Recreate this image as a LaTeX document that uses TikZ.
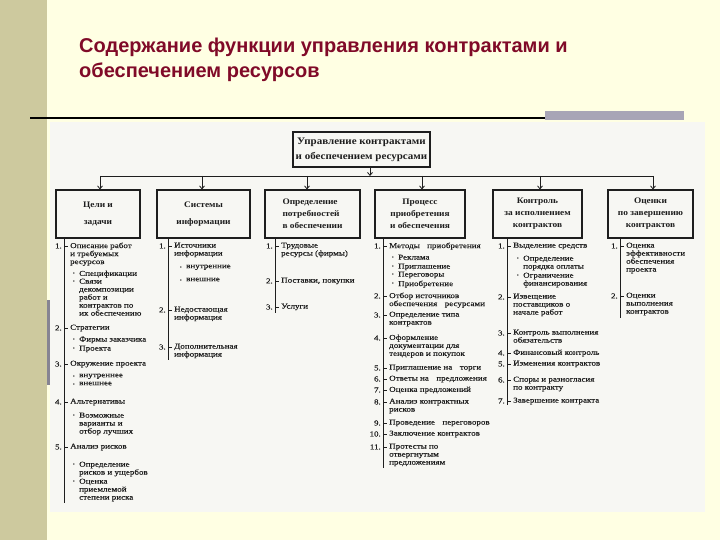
\documentclass[tikz,border=0pt]{standalone}
\usepackage{fontspec}
\setmainfont{Liberation Serif}
\newfontfamily\titlefont{Liberation Sans}
\newfontfamily\listfont[FakeStretch=1.2, FakeBold=0.3]{Liberation Serif}
\newfontfamily\boxfont[FakeStretch=1.1]{Liberation Serif}
\usetikzlibrary{arrows.meta, positioning}
\definecolor{slidebg}{HTML}{FFFFE3}
\definecolor{strip}{HTML}{CDC99E}
\definecolor{titlered}{HTML}{800A28}
\definecolor{bar}{HTML}{A8A5B6}
\definecolor{scan}{HTML}{F7F7F3}
\definecolor{ink}{HTML}{1E1E1E}
\tikzstyle{block} = [draw=ink, line width=1.1pt, rectangle, inner sep=2pt, text=ink]
\tikzstyle{topbox} = [block, minimum width=137pt, minimum height=35pt, align=center, font=\boxfont\bfseries\fontsize{10}{15}\selectfont]
\tikzstyle{task} = [block, minimum height=48pt, font=\boxfont\bfseries\fontsize{8.5}{12}\selectfont]
\tikzstyle{path} = [-{Straight Barb[length=3pt, width=5pt]}, ink, thick]
\tikzstyle{bus} = [ink, line width=0.9pt]
\tikzstyle{spine} = [ink, line width=0.9pt]
\tikzstyle{tick} = [ink, line width=0.6pt]
\tikzstyle{num} = [anchor=east, inner sep=0pt, font=\listfont\fontsize{7.5}{8}\selectfont, text=ink]
\tikzstyle{item} = [anchor=north west, inner sep=0pt, align=left, font=\listfont\fontsize{7.5}{8}\selectfont, text=ink]
\tikzstyle{bul} = [inner sep=0pt, font=\fontsize{6}{6}\selectfont, text=ink]

\begin{document}
\begin{tikzpicture}[x=1pt, y=-1pt]
    \useasboundingbox (0,0) rectangle (720,540);

    % Slide.
    \fill[slidebg] (0,0) rectangle (720,540);
    \fill[strip] (0,0) rectangle (47,540);
    \fill[bar] (545,111) rectangle (684,120);
    \draw[line width=2.5pt] (30,118) -- (545,118);
    \fill[scan] (50,122) rectangle (705,512);
    \fill[bar!80!black] (47,300) rectangle (50,385);
    \node (title) [anchor=north west, inner sep=0pt, align=left, text=titlered,
        font=\titlefont\bfseries\fontsize{20}{25}\selectfont] at (79,38)
        {Содержание функции управления контрактами и\\обеспечением ресурсов};

    % Boxes.
    \node (top) [topbox] at (361.5,149.5) {Управление контрактами\\и обеспечением ресурсами};
    \foreach\i/\x/\w/\a/\t in {1/98/84/center/{Цели и\\[5pt]задачи},
        2/203.5/93/center/{Системы\\[5pt]информации},
        3/312.5/95/left/{Определение\\потребностей\\в обеспечении},
        4/420/90/center/{Процесс\\приобретения\\и обеспечения},
        5/537.5/89/center/{Контроль\\за исполнением\\контрактов},
        6/650.5/85/center/{Оценки\\по завершению\\контрактов}} {
        \node (box\i) [task, minimum width=\w pt, align=\a] at (\x,214) {\t};
    }

    % Arrows.
    \coordinate (bus0) at (370,176);
    \foreach\i/\x in {1/100, 2/202, 3/307, 4/422, 5/540, 6/653} {
        \coordinate (bus\i) at (\x,176);
    }
    \draw [path] (top.south -| bus0) -- (bus0);
    \draw [bus] (bus1) -- (bus6);
    \foreach\i in {1, ..., 6} {
        \draw [path] (bus\i) -- (bus\i |- box\i.north);
    }

    % Lists.
    \foreach\i/\x/\e in {1/64/503, 2/168/360, 3/275/313, 4/383/468, 5/507/405, 6/620/318} {
        \coordinate (end\i) at (\x,\e);
        \draw [spine] (box\i.south -| end\i) -- (end\i);
    }
    \foreach\x/\k/\y/\t in {64/1/246/{Описание работ\\и требуемых\\ресурсов},
        64/2/328/Стратегии, 64/3/364/{Окружение проекта},
        64/4/402/Альтернативы, 64/5/447/{Анализ рисков},
        168/1/246/{Источники\\информации}, 168/2/310/{Недостающая\\информация},
        168/3/347/{Дополнительная\\информация},
        275/1/246/{Трудовые\\ресурсы (фирмы)}, 275/2/281/{Поставки, покупки},
        275/3/307/Услуги,
        383/1/246/{Методы\quad приобретения},
        383/2/296/{Отбор источников\\обеспечения\quad ресурсами},
        383/3/315/{Определение типа\\контрактов},
        383/4/338/{Оформление\\документации для\\тендеров и покупок},
        383/5/368/{Приглашение на\quad торги},
        383/6/379/{Ответы на\quad предложения},
        383/7/390/{Оценка предложений},
        383/8/402/{Анализ контрактных\\рисков},
        383/9/423/{Проведение\quad переговоров},
        383/10/434/{Заключение контрактов},
        383/11/447/{Протесты по\\отвергнутым\\предложениям},
        507/1/246/{Выделение средств},
        507/2/297/{Извещение\\поставщиков о\\начале работ},
        507/3/333/{Контроль выполнения\\обязательств},
        507/4/353/{Финансовый контроль},
        507/5/364/{Изменения контрактов},
        507/6/380/{Споры и разногласия\\по контракту},
        507/7/401/{Завершение контракта},
        620/1/246/{Оценка\\эффективности\\обеспечения\\проекта},
        620/2/296/{Оценки\\выполнения\\контрактов}} {
        \node (num\x-\k) [num] at (\x-2,\y) {\k.};
        \draw [tick] (\x,\y) -- (\x+4,\y);
        \node (item\x-\k) [item] at (\x+6,\y-3.5) {\t};
    }
    \foreach\x/\y/\t in {74/274/Спецификации,
        74/282/{Связи\\декомпозиции\\работ и\\контрактов по\\их обеспечению},
        74/340/{Фирмы заказчика}, 74/349/Проекта,
        74/377/внутреннее, 74/385/внешнее,
        74/416/{Возможные\\варианты и\\отбор лучших},
        74/465/{Определение\\рисков и ущербов},
        74/482/{Оценка\\приемлемой\\степени риска},
        181/268/внутренние, 181/281/внешние,
        393/258/Реклама, 393/267/Приглашение, 393/275/Переговоры, 393/284/Приобретение,
        518/259/{Определение\\порядка оплаты}, 518/276/{Ограничение\\финансирования}} {
        \node (dot\x-\y) [bul] at (\x,\y) {\textbullet};
        \node (sub\x-\y) [item] at (\x+5,\y-3.5) {\t};
    }
\end{tikzpicture}
\end{document}
